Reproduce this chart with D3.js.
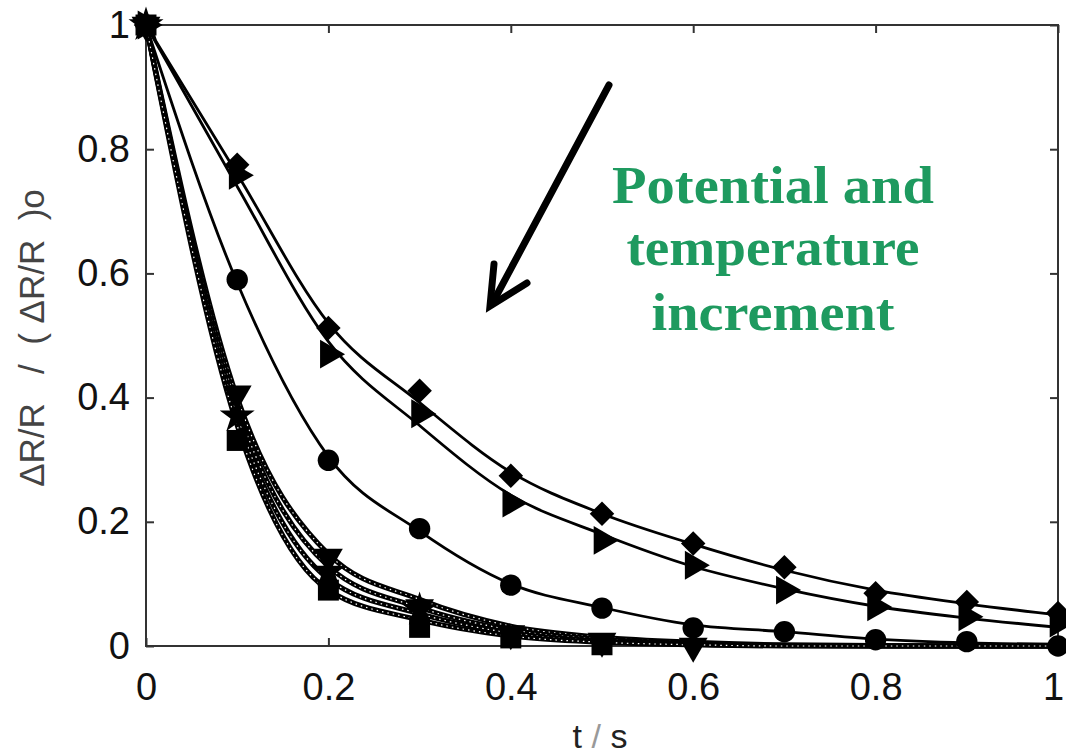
<!DOCTYPE html>
<html lang="en">
<head>
  <meta charset="UTF-8">
  <title>Normalized response vs time</title>
  <style>
    body { margin: 0; background: #fff; }
    svg { display: block; }
  </style>
</head>
<body>
  <svg id="chart" width="1066" height="755"></svg>

  <script src="https://d3js.org/d3.v7.min.js"></script>
  <script>
    // time axis (s)
    const times = [0, 0.1, 0.2, 0.3, 0.4, 0.5, 0.6, 0.7, 0.8, 0.9, 1.0];
    const tickValues = [0, 0.2, 0.4, 0.6, 0.8, 1];
    const tickLabels = ["0", "0.2", "0.4", "0.6", "0.8", "1"];

    const diamondPts  = [1, 0.775, 0.512, 0.411, 0.274, 0.213, 0.165, 0.127, 0.085, 0.071, 0.053];
    const triRightPts = [1, 0.758, 0.470, 0.374, 0.230, 0.170, 0.130, 0.090, 0.063, 0.047, 0.037];
    const circlePts   = [1, 0.590, 0.299, 0.189, 0.098, 0.061, 0.029, 0.023, 0.010, 0.007, 0.000];
    const triDownPts  = [1, 0.406, 0.143, 0.062, 0.020, 0.008, 0.000];
    const starPts     = [1, 0.370, 0.120, 0.058];
    const squarePts   = [1, 0.331, 0.090, 0.030, 0.013, 0.002];

    // fitted curves (lines)
    const diamondFit  = [1, 0.760, 0.520, 0.392, 0.280, 0.213, 0.164, 0.122, 0.090, 0.068, 0.050];
    const triRightFit = [1, 0.740, 0.490, 0.355, 0.243, 0.180, 0.128, 0.092, 0.064, 0.045, 0.030];
    const circleFit   = [1, 0.585, 0.305, 0.185, 0.100, 0.062, 0.034, 0.023, 0.011, 0.005, 0.003];
    const triDownFit  = [1, 0.400, 0.148, 0.075, 0.032, 0.014, 0.006, 0.002, 0.001, 0, 0];
    const starFit     = [1, 0.385, 0.128, 0.062, 0.026, 0.011, 0.004, 0.001, 0, 0, 0];
    const plainFit    = [1, 0.370, 0.108, 0.052, 0.021, 0.008, 0.003, 0.001, 0, 0, 0];
    const squareFit   = [1, 0.355, 0.090, 0.042, 0.016, 0.006, 0.002, 0, 0, 0, 0];

    const series = [
      { pts: diamondPts,  fit: diamondFit,  marker: "diamond",  lower: false },
      { pts: triRightPts, fit: triRightFit, marker: "triRight", lower: false },
      { pts: circlePts,   fit: circleFit,   marker: "circle",   lower: false },
      { pts: triDownPts,  fit: triDownFit,  marker: "triDown",  lower: true },
      { pts: starPts,     fit: starFit,     marker: "star",     lower: true },
      { pts: [],          fit: plainFit,    marker: null,       lower: true },
      { pts: squarePts,   fit: squareFit,   marker: "square",   lower: true }
    ];

    const svg = d3.select("#chart");

    const x = d3.scaleLinear().domain([0, 1]).range([146, 1058]);
    const y = d3.scaleLinear().domain([0, 1]).range([646, 25]);

    const line = d3.line()
      .x(d => x(d[0]))
      .y(d => y(d[1]))
      .curve(d3.curveMonotoneX);

    const axisColor = "#333";
    const tickFont = "'Liberation Sans', Arial, sans-serif";

    // box frame
    svg.append("rect")
      .attr("x", x(0)).attr("y", y(1))
      .attr("width", x(1) - x(0)).attr("height", y(0) - y(1))
      .attr("fill", "none")
      .attr("stroke", axisColor)
      .attr("stroke-width", 2);

    // inward ticks on all four sides
    const bottomAxis = d3.axisBottom(x).tickValues(tickValues).tickSizeInner(-8).tickSizeOuter(0)
      .tickFormat((d, i) => tickLabels[i]).tickPadding(20);
    const topAxis = d3.axisTop(x).tickValues(tickValues).tickSizeInner(-8).tickSizeOuter(0).tickFormat("");
    const leftAxis = d3.axisLeft(y).tickValues(tickValues).tickSizeInner(-8).tickSizeOuter(0)
      .tickFormat((d, i) => tickLabels[i]).tickPadding(20);
    const rightAxis = d3.axisRight(y).tickValues(tickValues).tickSizeInner(-8).tickSizeOuter(0).tickFormat("");

    const gb = svg.append("g").attr("transform", `translate(0,${y(0)})`).call(bottomAxis);
    const gt = svg.append("g").attr("transform", `translate(0,${y(1)})`).call(topAxis);
    const gl = svg.append("g").attr("transform", `translate(${x(0)},0)`).call(leftAxis);
    const gr = svg.append("g").attr("transform", `translate(${x(1)},0)`).call(rightAxis);

    [gb, gt, gl, gr].forEach(g => {
      g.select(".domain").remove();
      g.selectAll(".tick line").attr("stroke", axisColor).attr("stroke-width", 2);
      g.selectAll(".tick text")
        .attr("fill", "#111")
        .style("font-family", tickFont)
        .style("font-size", "38px");
    });
    gb.selectAll(".tick text").attr("dy", "0.9em");
    gb.selectAll(".tick text").filter(d => d === 1).attr("dx", "-5px");
    gl.selectAll(".tick text").attr("dx", "4px");

    // axis titles
    const nb = "\u00a0";
    svg.append("text")
      .attr("transform", "translate(44,338) rotate(-90)")
      .attr("text-anchor", "middle")
      .attr("fill", "#444")
      .style("font-family", tickFont)
      .style("font-size", "35px")
      .text(`\u0394R/R${nb}${nb}${nb}/${nb}${nb}(${nb}\u0394R/R${nb}${nb})o`);

    const xt = svg.append("text")
      .attr("x", 600).attr("y", 748)
      .attr("text-anchor", "middle")
      .attr("fill", "#222")
      .style("font-family", tickFont)
      .style("font-size", "34px");
    xt.append("tspan").text("t ");
    xt.append("tspan").attr("fill", "#999").style("font-weight", "300").text("/");
    xt.append("tspan").text(" s");

    // fitted curves
    const plot = svg.append("g");
    series.forEach(s => {
      const pts = times.map((t, i) => [t, s.fit[i]]);
      if (s.lower) {
        plot.append("path").attr("d", line(pts))
          .attr("fill", "none").attr("stroke", "#000").attr("stroke-width", 5);
        plot.append("path").attr("d", line(pts))
          .attr("fill", "none").attr("stroke", "#fff").attr("stroke-width", 1.2)
          .attr("stroke-dasharray", "1.5,4");
      } else {
        plot.append("path").attr("d", line(pts))
          .attr("fill", "none").attr("stroke", "#000").attr("stroke-width", 2.8);
      }
    });

    // markers
    const symbolFor = {
      diamond:  { type: d3.symbolSquare,   size: 300, rot: 45 },
      triRight: { type: d3.symbolTriangle, size: 360, rot: 90 },
      circle:   { type: d3.symbolCircle,   size: 360, rot: 0 },
      triDown:  { type: d3.symbolTriangle, size: 360, rot: 180 },
      star:     { type: d3.symbolStar,     size: 380, rot: 0 },
      square:   { type: d3.symbolSquare,   size: 440, rot: 0 }
    };

    series.forEach(s => {
      if (!s.marker) return;
      const sym = symbolFor[s.marker];
      const pts = s.pts.map((v, i) => [times[i], v]);
      plot.selectAll(null)
        .data(pts)
        .enter()
        .append("path")
        .attr("d", d3.symbol().type(sym.type).size(sym.size))
        .attr("transform", d => `translate(${x(d[0])},${y(d[1])}) rotate(${sym.rot})`)
        .attr("fill", "#000");
    });

    // annotation arrow
    const arrow = svg.append("g")
      .attr("stroke", "#000")
      .attr("stroke-width", 7)
      .attr("stroke-linecap", "round")
      .attr("stroke-linejoin", "miter")
      .attr("fill", "none");
    arrow.append("line").attr("x1", 609).attr("y1", 85).attr("x2", 492).attr("y2", 304);
    arrow.append("polyline").attr("points", "494,264 490,306 527,283");

    // annotation text
    const noteLines = [
      { text: "Potential and", y: 203, len: 322 },
      { text: "temperature",   y: 265, len: 293 },
      { text: "increment",     y: 330, len: 243 }
    ];
    svg.selectAll(".note")
      .data(noteLines)
      .enter()
      .append("text")
      .attr("class", "note")
      .attr("x", 773)
      .attr("y", d => d.y)
      .attr("text-anchor", "middle")
      .attr("textLength", d => d.len)
      .attr("lengthAdjust", "spacingAndGlyphs")
      .attr("fill", "#1e9a5f")
      .style("font-family", "'Liberation Serif', 'DejaVu Serif', serif")
      .style("font-weight", "bold")
      .style("font-size", "53px")
      .text(d => d.text);
  </script>
</body>
</html>
